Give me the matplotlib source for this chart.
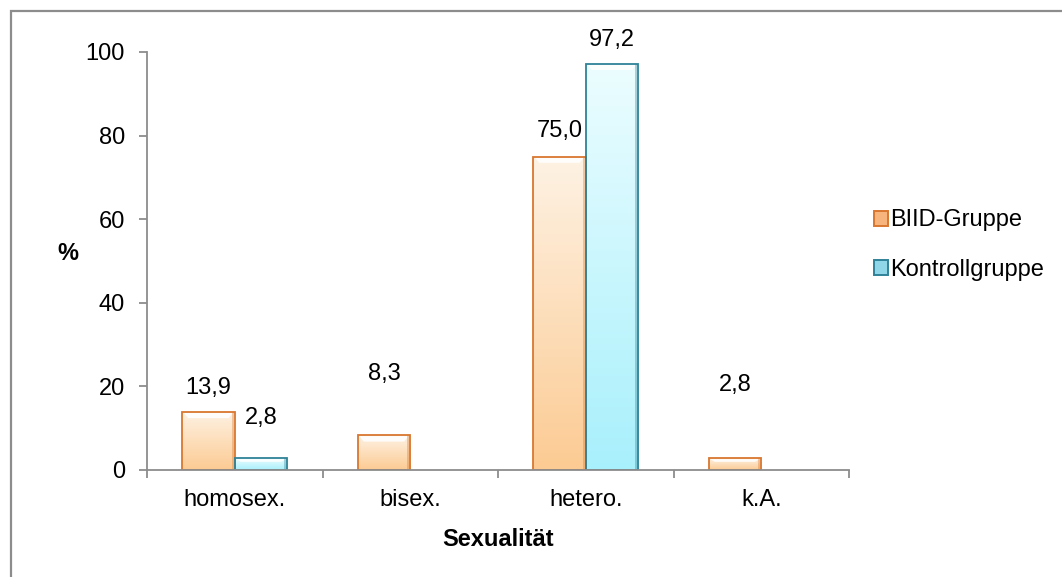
import matplotlib.pyplot as plt
import numpy as np
from matplotlib.patches import Rectangle, Polygon, Patch
from matplotlib.colors import LinearSegmentedColormap

plt.rcParams['font.family'] = ['Liberation Sans', 'DejaVu Sans']

# data
categories = ['homosex.', 'bisex.', 'hetero.', 'k.A.']
biid = [13.9, 8.3, 75.0, 2.8]
kontroll = [2.8, 0.0, 97.2, 0.0]
series_names = ['BIID-Gruppe', 'Kontrollgruppe']

# label offsets from bar top, pixels (dx, dy)
biid_label_off = [(0, 24), (0, 61), (0, 25), (0, 73)]
kontroll_label_off = [(0, 40), None, (0, 24), None]

orange_cm = LinearSegmentedColormap.from_list('o', ['#fccb93', '#fef2e4'])
blue_cm = LinearSegmentedColormap.from_list('b', ['#a8f0fc', '#ecfdff'])
orange_edge = '#d9772f'
blue_edge = '#2f8297'
FS = 17

fig = plt.figure(figsize=(10.62, 5.77), dpi=100)
ax = fig.add_axes([147 / 1062, 1 - 470 / 577, (849 - 147) / 1062, (470 - 52) / 577])

# outer chart frame
fig.patches.append(Rectangle((11 / 1062, -0.2), 2, 1.2 - 11 / 577, transform=fig.transFigure,
                             fill=False, edgecolor='#8c8c8c', linewidth=1.6))

x = np.arange(len(categories))
w = 0.3
grad = np.linspace(0, 1, 256).reshape(-1, 1)


def style_bars(bars, cmap, edge):
    for b in bars:
        h = b.get_height()
        if h <= 0:
            b.set_visible(False)
            continue
        x0 = b.get_x()
        x1 = x0 + b.get_width()
        b.set_facecolor('none')
        b.set_edgecolor(edge)
        b.set_linewidth(1.3)
        b.set_zorder(3)
        im = ax.imshow(grad, cmap=cmap, extent=[x0, x1, 0, h], origin='lower',
                       aspect='auto', zorder=2)
        im.set_clip_path(b)
        # bevel highlight on the top
        bh = min(1.5, h * 0.3)
        d = 0.035
        ax.add_patch(Polygon([(x0 + 0.01, h - 0.2), (x1 - 0.01, h - 0.2), (x1 - d, h - bh), (x0 + d, h - bh)],
                             closed=True, facecolor='white', edgecolor='none', alpha=0.9, zorder=2.5))
        ax.add_patch(Rectangle((x1 - 0.018, 0), 0.012, h, facecolor=edge, alpha=0.35,
                               edgecolor='none', zorder=2.5))


b1 = ax.bar(x - w / 2, biid, w)
b2 = ax.bar(x + w / 2, kontroll, w)
style_bars(b1, orange_cm, orange_edge)
style_bars(b2, blue_cm, blue_edge)


def fmt(v):
    return f'{v:.1f}'.replace('.', ',')


for xs, vals, offs in [(x - w / 2, biid, biid_label_off), (x + w / 2, kontroll, kontroll_label_off)]:
    for xi, v, off in zip(xs, vals, offs):
        if off is None:
            continue
        ax.annotate(fmt(v), (xi, v), xytext=off, textcoords='offset pixels',
                    ha='center', va='center', fontsize=FS, annotation_clip=False)

ax.set_xlim(-0.5, len(categories) - 0.5)
ax.set_ylim(0, 100)
ax.set_yticks([0, 20, 40, 60, 80, 100])
ax.set_xticks(x)
ax.set_xticklabels(categories)
ax.set_xticks(np.arange(-0.5, len(categories)), minor=True)
ax.tick_params(axis='x', which='major', length=0, pad=14, labelsize=FS)
ax.tick_params(axis='x', which='minor', length=6, width=1.3, color='#8c8c8c')
ax.tick_params(axis='y', length=6, width=1.3, color='#8c8c8c', pad=10, labelsize=FS)

for s in ['top', 'right']:
    ax.spines[s].set_visible(False)
for s in ['left', 'bottom']:
    ax.spines[s].set_color('#8c8c8c')
    ax.spines[s].set_linewidth(1.3)
    ax.spines[s].set_zorder(4)

fig.text(68 / 1062, 1 - 253 / 577, '%', fontsize=FS, fontweight='bold', ha='center', va='center')
fig.text(498 / 1062, 1 - 540 / 577, 'Sexualität', fontsize=FS, fontweight='bold', ha='center', va='center')

handles = [Patch(facecolor='#f7b57d', edgecolor=orange_edge, linewidth=1.4),
           Patch(facecolor='#8fd6e8', edgecolor=blue_edge, linewidth=1.4)]
fig.legend(handles, series_names, loc='center left', bbox_to_anchor=(862 / 1062, 1 - 245 / 577),
           frameon=False, fontsize=FS, handlelength=0.6, handleheight=0.6, handletextpad=0.1,
           labelspacing=1.15, borderpad=0)

fig.savefig('out.png', dpi=100)
